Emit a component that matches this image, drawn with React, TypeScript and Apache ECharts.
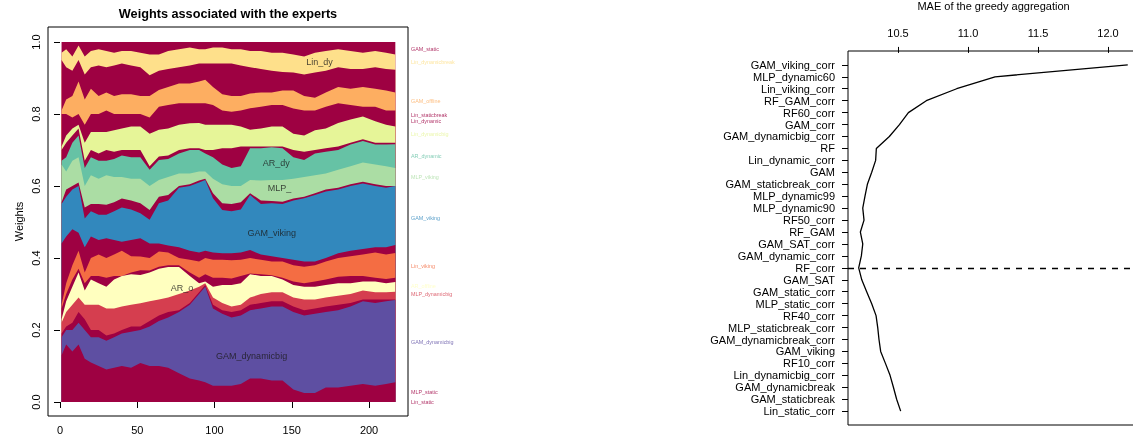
import React, { useEffect, useRef } from "react";
import * as echarts from "echarts";

// ---------- Left panel: cumulative weights of the experts (stack boundaries) ----------
const T = [1, 4, 8, 12, 16, 20, 25, 30, 35, 40, 46, 52, 58, 64, 70, 77, 84, 90, 94, 99, 105, 111, 117, 123, 130, 137, 144, 151, 158, 165, 172, 180, 188, 196, 204, 211, 217];

const topAll = [1, 1, 1, 1, 1, 1, 1, 1, 1, 1, 1, 1, 1, 1, 1, 1, 1, 1, 1, 1, 1, 1, 1, 1, 1, 1, 1, 1, 1, 1, 1, 1, 1, 1, 1, 1, 1];
const topLinDynamicbreak = [0.97, 0.98, 0.96, 0.99, 0.96, 0.975, 0.98, 0.975, 0.97, 0.975, 0.975, 0.97, 0.965, 0.965, 0.975, 0.98, 0.985, 0.98, 0.98, 0.985, 0.985, 0.98, 0.98, 0.975, 0.975, 0.97, 0.97, 0.965, 0.96, 0.97, 0.975, 0.98, 0.975, 0.97, 0.975, 0.97, 0.965];
const topCrimsonF = [0.95, 0.93, 0.92, 0.95, 0.91, 0.93, 0.935, 0.93, 0.935, 0.94, 0.935, 0.93, 0.908, 0.92, 0.925, 0.93, 0.935, 0.94, 0.94, 0.94, 0.94, 0.94, 0.935, 0.93, 0.925, 0.92, 0.917, 0.915, 0.91, 0.915, 0.92, 0.93, 0.925, 0.925, 0.93, 0.925, 0.923];
const topGAMoffline = [0.81, 0.84, 0.85, 0.89, 0.84, 0.87, 0.85, 0.86, 0.85, 0.855, 0.855, 0.85, 0.85, 0.867, 0.875, 0.885, 0.885, 0.89, 0.895, 0.875, 0.855, 0.85, 0.85, 0.857, 0.86, 0.86, 0.865, 0.865, 0.85, 0.845, 0.86, 0.875, 0.87, 0.875, 0.87, 0.865, 0.86];
const topLinStaticbreak = [0.8, 0.8, 0.79, 0.8, 0.77, 0.8, 0.8, 0.81, 0.8, 0.8, 0.8, 0.8, 0.79, 0.82, 0.825, 0.83, 0.83, 0.83, 0.83, 0.825, 0.81, 0.806, 0.81, 0.816, 0.82, 0.825, 0.825, 0.815, 0.81, 0.81, 0.82, 0.83, 0.825, 0.82, 0.82, 0.81, 0.81];
const topLinDynamicbig = [0.71, 0.74, 0.76, 0.77, 0.72, 0.75, 0.75, 0.75, 0.755, 0.76, 0.765, 0.765, 0.745, 0.756, 0.76, 0.77, 0.774, 0.775, 0.77, 0.77, 0.77, 0.77, 0.765, 0.756, 0.76, 0.765, 0.765, 0.745, 0.74, 0.755, 0.76, 0.775, 0.785, 0.793, 0.78, 0.77, 0.765];
const topCrimsonE = [0.7, 0.72, 0.74, 0.76, 0.67, 0.7, 0.69, 0.7, 0.695, 0.7, 0.7, 0.7, 0.655, 0.682, 0.685, 0.7, 0.705, 0.705, 0.7, 0.7, 0.705, 0.705, 0.71, 0.71, 0.71, 0.71, 0.71, 0.7, 0.695, 0.7, 0.705, 0.71, 0.72, 0.73, 0.72, 0.72, 0.72];
const topARdynamic = [0.67, 0.68, 0.72, 0.74, 0.65, 0.68, 0.67, 0.67, 0.675, 0.685, 0.68, 0.68, 0.645, 0.672, 0.675, 0.69, 0.7, 0.7, 0.69, 0.68, 0.66, 0.65, 0.655, 0.705, 0.705, 0.708, 0.705, 0.68, 0.672, 0.69, 0.695, 0.7, 0.715, 0.725, 0.715, 0.715, 0.716];
const topMLPviking = [0.66, 0.64, 0.67, 0.68, 0.6, 0.63, 0.62, 0.63, 0.625, 0.625, 0.62, 0.62, 0.6, 0.617, 0.625, 0.635, 0.635, 0.64, 0.64, 0.62, 0.605, 0.6, 0.6, 0.617, 0.615, 0.617, 0.617, 0.62, 0.625, 0.63, 0.635, 0.645, 0.655, 0.665, 0.66, 0.655, 0.65];
const topCrimsonD = [0.555, 0.59, 0.6, 0.61, 0.54, 0.55, 0.55, 0.548, 0.555, 0.565, 0.56, 0.552, 0.533, 0.57, 0.575, 0.6, 0.605, 0.615, 0.62, 0.58, 0.552, 0.55, 0.555, 0.58, 0.56, 0.558, 0.556, 0.565, 0.57, 0.58, 0.59, 0.595, 0.605, 0.612, 0.605, 0.6, 0.6];
const topGAMviking = [0.55, 0.57, 0.59, 0.6, 0.51, 0.53, 0.52, 0.52, 0.53, 0.54, 0.535, 0.524, 0.506, 0.552, 0.56, 0.595, 0.6, 0.61, 0.617, 0.566, 0.533, 0.53, 0.535, 0.575, 0.55, 0.552, 0.55, 0.56, 0.566, 0.575, 0.585, 0.59, 0.6, 0.607, 0.6, 0.595, 0.6];
const topCrimsonC = [0.44, 0.46, 0.48, 0.47, 0.43, 0.46, 0.45, 0.455, 0.45, 0.445, 0.45, 0.455, 0.44, 0.44, 0.435, 0.43, 0.42, 0.415, 0.42, 0.415, 0.413, 0.413, 0.415, 0.422, 0.41, 0.405, 0.4, 0.395, 0.39, 0.39, 0.4, 0.413, 0.42, 0.425, 0.43, 0.43, 0.436];
const topLinViking = [0.27, 0.33, 0.38, 0.42, 0.36, 0.4, 0.41, 0.4, 0.41, 0.42, 0.405, 0.404, 0.4, 0.418, 0.415, 0.4, 0.395, 0.39, 0.4, 0.395, 0.395, 0.394, 0.395, 0.4, 0.395, 0.39, 0.39, 0.38, 0.376, 0.38, 0.39, 0.4, 0.405, 0.41, 0.415, 0.41, 0.414];
const topCrimsonB = [0.26, 0.3, 0.34, 0.37, 0.33, 0.35, 0.35, 0.345, 0.35, 0.35, 0.36, 0.366, 0.365, 0.376, 0.38, 0.38, 0.36, 0.345, 0.355, 0.345, 0.345, 0.343, 0.35, 0.357, 0.355, 0.352, 0.345, 0.335, 0.33, 0.335, 0.34, 0.348, 0.35, 0.35, 0.345, 0.342, 0.345];
const topARoffline = [0.23, 0.28, 0.32, 0.36, 0.31, 0.34, 0.33, 0.32, 0.34, 0.35, 0.355, 0.353, 0.36, 0.37, 0.375, 0.375, 0.35, 0.33, 0.335, 0.32, 0.325, 0.325, 0.33, 0.355, 0.35, 0.35, 0.34, 0.325, 0.32, 0.32, 0.325, 0.33, 0.33, 0.335, 0.335, 0.33, 0.333];
const topMLPdynamicbig = [0.22, 0.25, 0.27, 0.29, 0.27, 0.27, 0.27, 0.26, 0.26, 0.265, 0.27, 0.274, 0.28, 0.285, 0.29, 0.3, 0.31, 0.32, 0.33, 0.29, 0.275, 0.265, 0.27, 0.29, 0.3, 0.305, 0.305, 0.29, 0.285, 0.285, 0.29, 0.295, 0.3, 0.31, 0.305, 0.305, 0.306];
const topCrimsonA = [0.19, 0.21, 0.22, 0.25, 0.23, 0.2, 0.2, 0.185, 0.19, 0.2, 0.21, 0.21, 0.225, 0.24, 0.25, 0.255, 0.275, 0.305, 0.325, 0.27, 0.255, 0.25, 0.255, 0.27, 0.275, 0.28, 0.28, 0.265, 0.255, 0.26, 0.265, 0.27, 0.275, 0.285, 0.285, 0.285, 0.285];
const topGAMdynamicbig = [0.18, 0.2, 0.2, 0.22, 0.2, 0.18, 0.18, 0.17, 0.18, 0.19, 0.195, 0.2, 0.21, 0.225, 0.235, 0.25, 0.27, 0.3, 0.32, 0.26, 0.245, 0.235, 0.24, 0.255, 0.26, 0.265, 0.265, 0.25, 0.24, 0.245, 0.25, 0.255, 0.265, 0.28, 0.275, 0.28, 0.283];
const topMLPstatic = [0.13, 0.16, 0.14, 0.16, 0.12, 0.11, 0.1, 0.09, 0.095, 0.1, 0.095, 0.108, 0.1, 0.1, 0.095, 0.08, 0.065, 0.06, 0.055, 0.045, 0.045, 0.045, 0.05, 0.065, 0.065, 0.06, 0.06, 0.035, 0.025, 0.025, 0.04, 0.04, 0.045, 0.05, 0.045, 0.05, 0.055];

// right-hand expert names and final mid positions
const endLabels = ["GAM_static", "Lin_dynamicbreak", "GAM_offline", "Lin_staticbreak", "Lin_dynamic", "Lin_dynamicbig", "AR_dynamic", "MLP_viking", "GAM_viking", "Lin_viking", "AR_offline", "MLP_dynamicbig", "GAM_dynamicbig", "MLP_static", "Lin_static"];
const endLabelY = [0.98, 0.944, 0.836, 0.797, 0.78, 0.744, 0.683, 0.625, 0.511, 0.378, 0.322, 0.3, 0.167, 0.028, 0.0];

// labels drawn inside the plot
const innerLabels = ["Lin_dy", "AR_dy", "MLP_", "GAM_viking", "AR_o", "GAM_dynamicbig"];
const innerLabelX = [168, 140, 142, 137, 79, 124];
const innerLabelY = [0.944, 0.664, 0.594, 0.469, 0.317, 0.128];

const weightTicksX = [0, 50, 100, 150, 200];
const weightTicksY = [0, 0.2, 0.4, 0.6, 0.8, 1];

// ---------- Right panel ----------
const maeNames = ["GAM_viking_corr", "MLP_dynamic60", "Lin_viking_corr", "RF_GAM_corr", "RF60_corr", "GAM_corr", "GAM_dynamicbig_corr", "RF", "Lin_dynamic_corr", "GAM", "GAM_staticbreak_corr", "MLP_dynamic99", "MLP_dynamic90", "RF50_corr", "RF_GAM", "GAM_SAT_corr", "GAM_dynamic_corr", "RF_corr", "GAM_SAT", "GAM_static_corr", "MLP_static_corr", "RF40_corr", "MLP_staticbreak_corr", "GAM_dynamicbreak_corr", "GAM_viking", "RF10_corr", "Lin_dynamicbig_corr", "GAM_dynamicbreak", "GAM_staticbreak", "Lin_static_corr"];
const maeValues = [12.141, 11.193, 10.919, 10.702, 10.574, 10.51, 10.438, 10.345, 10.34, 10.312, 10.281, 10.264, 10.248, 10.257, 10.231, 10.248, 10.238, 10.219, 10.241, 10.276, 10.312, 10.343, 10.355, 10.364, 10.376, 10.41, 10.443, 10.467, 10.49, 10.519];
const maeTicks = [10.5, 11, 11.5, 12];
const bestRank = 18;

const CRIMSON = "#9E0142";
const FONT = "Liberation Sans, Arial, Helvetica, sans-serif";

const layers: { name: string; data: number[]; color: string }[] = [
  { name: "GAM_static", data: topAll, color: CRIMSON },
  { name: "Lin_dynamicbreak", data: topLinDynamicbreak, color: "#FEE08B" },
  { name: "others_f", data: topCrimsonF, color: CRIMSON },
  { name: "GAM_offline", data: topGAMoffline, color: "#FDAE61" },
  { name: "Lin_staticbreak", data: topLinStaticbreak, color: CRIMSON },
  { name: "Lin_dynamicbig", data: topLinDynamicbig, color: "#E6F598" },
  { name: "others_e", data: topCrimsonE, color: CRIMSON },
  { name: "AR_dynamic", data: topARdynamic, color: "#66C2A5" },
  { name: "MLP_viking", data: topMLPviking, color: "#ABDDA4" },
  { name: "others_d", data: topCrimsonD, color: CRIMSON },
  { name: "GAM_viking", data: topGAMviking, color: "#3288BD" },
  { name: "others_c", data: topCrimsonC, color: CRIMSON },
  { name: "Lin_viking", data: topLinViking, color: "#F46D43" },
  { name: "others_b", data: topCrimsonB, color: CRIMSON },
  { name: "AR_offline", data: topARoffline, color: "#FFFFBF" },
  { name: "MLP_dynamicbig", data: topMLPdynamicbig, color: "#D53E4F" },
  { name: "others_a", data: topCrimsonA, color: CRIMSON },
  { name: "GAM_dynamicbig", data: topGAMdynamicbig, color: "#5E4FA2" },
  { name: "MLP_static", data: topMLPstatic, color: CRIMSON },
];

const endLabelColors: Record<string, string> = {};
layers.forEach((l) => (endLabelColors[l.name] = l.color));
endLabelColors["Lin_dynamic"] = CRIMSON;
endLabelColors["Lin_static"] = CRIMSON;

export default function App() {
  const ref = useRef<HTMLDivElement>(null);
  useEffect(() => {
    const chart = echarts.init(ref.current!, null, { renderer: "svg" });
    const areaSeries = layers.map((l) => ({
      type: "line",
      name: l.name,
      xAxisIndex: 0,
      yAxisIndex: 0,
      data: T.map((t, i) => [t, l.data[i]]),
      symbol: "none",
      showSymbol: false,
      lineStyle: { width: 0, opacity: 0 },
      areaStyle: { color: l.color, opacity: 1 },
      silent: true,
      z: 2,
    }));
    const option: any = {
      animation: false,
      textStyle: { fontFamily: FONT },
      title: [
        {
          text: "Weights associated with the experts",
          left: 228,
          top: 7,
          textAlign: "center",
          padding: 0,
          textStyle: { fontSize: 12.7, fontWeight: "bold", color: "#000", fontFamily: FONT },
        },
        {
          text: "MAE of the greedy aggregation",
          left: 993.5,
          top: 0,
          textAlign: "center",
          padding: 0,
          textStyle: { fontSize: 11, fontWeight: "normal", color: "#000", fontFamily: FONT },
        },
      ],
      grid: [
        { left: 48, top: 27, width: 360, height: 389, show: true, borderColor: "#000", borderWidth: 1, backgroundColor: "transparent", outerBoundsMode: "none" },
        { left: 848, top: 51, right: -6, bottom: 12, show: true, borderColor: "#000", borderWidth: 1, backgroundColor: "transparent", outerBoundsMode: "none" },
      ],
      xAxis: [
        {
          gridIndex: 0,
          type: "value",
          min: -7.77,
          max: 225.2,
          axisLine: { show: false },
          splitLine: { show: false },
          axisTick: { show: true, length: 6, customValues: weightTicksX, lineStyle: { color: "#000" } },
          axisLabel: { customValues: weightTicksX, margin: 8, color: "#000", fontSize: 11, fontFamily: FONT },
        },
        {
          gridIndex: 1,
          type: "value",
          position: "top",
          min: 10.1426,
          max: 12.2213,
          axisLine: { show: false },
          splitLine: { show: false },
          axisTick: { show: true, length: 6, customValues: maeTicks, lineStyle: { color: "#000" } },
          axisLabel: {
            customValues: maeTicks,
            margin: 13,
            color: "#000",
            fontSize: 11,
            fontFamily: FONT,
            formatter: (v: number) => v.toFixed(1),
          },
        },
      ],
      yAxis: [
        {
          gridIndex: 0,
          type: "value",
          min: -0.0389,
          max: 1.0417,
          axisLine: { show: false },
          splitLine: { show: false },
          axisTick: { show: true, length: 6, customValues: weightTicksY, lineStyle: { color: "#000" } },
          axisLabel: {
            customValues: weightTicksY,
            rotate: 90,
            margin: 7,
            color: "#000",
            fontSize: 11,
            fontFamily: FONT,
            formatter: (v: number) => v.toFixed(1),
          },
          name: "Weights",
          nameLocation: "middle",
          nameRotate: 90,
          nameGap: 24,
          nameTextStyle: { fontSize: 11, color: "#000", fontFamily: FONT },
        },
        {
          gridIndex: 1,
          type: "value",
          inverse: true,
          min: -0.16,
          max: 31.16,
          axisLine: { show: false },
          splitLine: { show: false },
          axisTick: { show: true, length: 6, customValues: maeNames.map((_, i) => i + 1), lineStyle: { color: "#000" } },
          axisLabel: {
            customValues: maeNames.map((_, i) => i + 1),
            margin: 13,
            color: "#000",
            fontSize: 11,
            fontFamily: FONT,
            formatter: (v: number) => maeNames[Math.round(v) - 1] ?? "",
          },
        },
      ],
      series: [
        ...areaSeries,
        {
          type: "scatter",
          xAxisIndex: 0,
          yAxisIndex: 0,
          symbolSize: 0,
          clip: false,
          silent: true,
          z: 5,
          data: endLabels.map((n, i) => ({
            name: n,
            value: [225.2, endLabelY[i]],
            label: { color: endLabelColors[n] ?? CRIMSON },
          })),
          label: { show: true, position: "right", distance: 3, fontSize: 5.4, fontFamily: FONT, formatter: "{b}" },
        },
        {
          type: "scatter",
          xAxisIndex: 0,
          yAxisIndex: 0,
          symbolSize: 0,
          clip: false,
          silent: true,
          z: 5,
          data: innerLabels.map((n, i) => ({ name: n, value: [innerLabelX[i], innerLabelY[i]] })),
          label: { show: true, position: "inside", fontSize: 9, color: "#1a1a1a", fontFamily: FONT, formatter: "{b}" },
        },
        {
          type: "line",
          xAxisIndex: 1,
          yAxisIndex: 1,
          data: maeValues.map((v, i) => [v, i + 1]),
          symbol: "none",
          showSymbol: false,
          lineStyle: { color: "#000", width: 1.3 },
          silent: true,
          markLine: {
            silent: true,
            symbol: "none",
            label: { show: false },
            lineStyle: { type: [6, 6], color: "#000", width: 1.3 },
            data: [{ yAxis: bestRank }],
          },
        },
      ],
    };
    chart.setOption(option);
    return () => chart.dispose();
  }, []);
  return <div ref={ref} style={{ position: "fixed", left: 0, top: 0, width: 1133, height: 437 }} />;
}
